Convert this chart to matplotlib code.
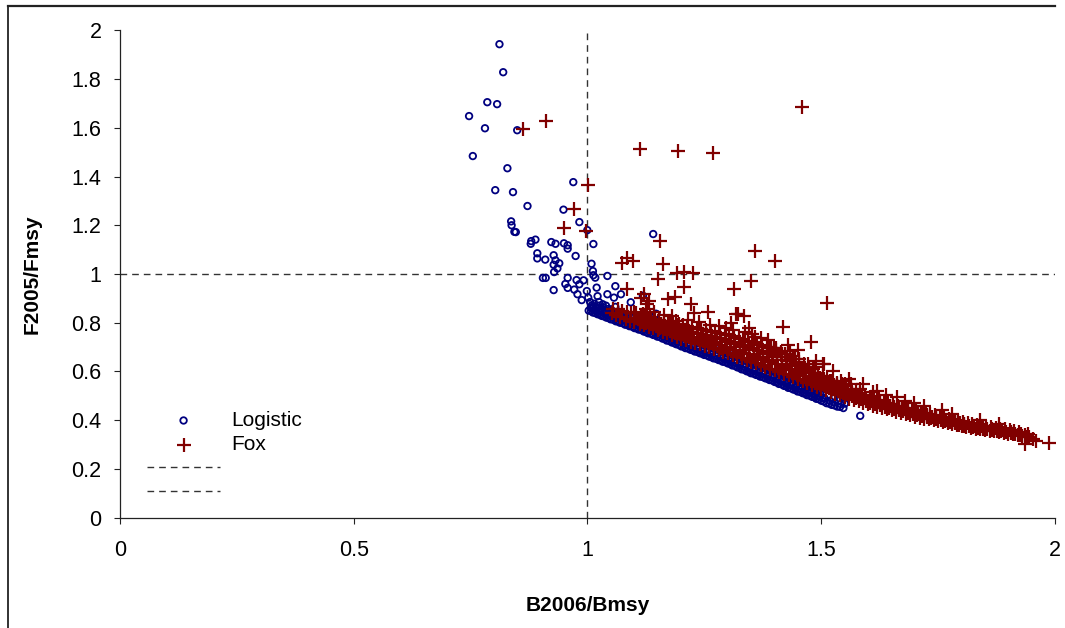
import matplotlib
matplotlib.use("Agg")
import matplotlib.pyplot as plt
from matplotlib.lines import Line2D

# ---------------- data ----------------
logistic_xy = [
    # scattered points
    (0.812, 1.943), (0.820, 1.828), (0.786, 1.705), (0.807, 1.697), (0.747, 1.648),
    (0.781, 1.598), (0.850, 1.590), (0.755, 1.484), (0.829, 1.434), (0.970, 1.377),
    (0.803, 1.344), (0.841, 1.336), (0.872, 1.279), (0.949, 1.264), (0.983, 1.213),
    (0.837, 1.216), (0.838, 1.200), (0.844, 1.173), (0.847, 1.172), (1.013, 1.123),
    (0.880, 1.135), (0.879, 1.124), (0.889, 1.141), (0.923, 1.131), (0.932, 1.124),
    (0.950, 1.126), (0.958, 1.118), (0.958, 1.104), (0.893, 1.085), (0.893, 1.064),
    (0.910, 1.059), (0.928, 1.077), (0.932, 1.056), (0.940, 1.044), (0.928, 1.038),
    (0.936, 1.023), (0.975, 1.074), (0.929, 1.008), (1.009, 1.042), (0.905, 0.984),
    (0.911, 0.984), (0.928, 0.934), (0.958, 0.984), (0.953, 0.959), (0.958, 0.943),
    (0.972, 0.936), (0.977, 0.975), (0.983, 0.958), (0.992, 0.974), (0.979, 0.917),
    (0.988, 0.893), (1.012, 1.012), (1.013, 0.995), (1.017, 0.985), (1.043, 0.992),
    (1.060, 0.950), (1.020, 0.944), (0.999, 0.930), (1.002, 0.903), (1.012, 0.862),
    (1.022, 0.909), (1.043, 0.917), (1.033, 0.876), (1.042, 0.846), (1.057, 0.903),
    (1.141, 1.164), (1.000, 1.180), (1.119, 0.911), (1.093, 0.884), (1.072, 0.917),
    (1.148, 0.835), (1.013, 0.861), (1.193, 0.745), (1.147, 0.837),
    (1.030, 0.860), (1.040, 0.870), (1.050, 0.855), (1.060, 0.865), (1.025, 0.885),
    (1.065, 0.845),
    # dense band
    (1.003, .850), (1.006, .885), (1.012, .842), (1.015, .878), (1.022, .835), (1.025, .870),
    (1.031, .828), (1.034, .862), (1.041, .821), (1.044, .856), (1.050, .814), (1.053, .849),
    (1.061, .806), (1.064, .842), (1.070, .800), (1.073, .835), (1.081, .792), (1.084, .828),
    (1.090, .786), (1.093, .821), (1.101, .778), (1.104, .814), (1.110, .772), (1.113, .806),
    (1.121, .764), (1.124, .800), (1.130, .757), (1.133, .793), (1.141, .750), (1.144, .786),
    (1.150, .743), (1.153, .779), (1.161, .735), (1.164, .771), (1.170, .727), (1.173, .763),
    (1.181, .719), (1.184, .755), (1.190, .712), (1.193, .747), (1.201, .703), (1.204, .739),
    (1.210, .696), (1.213, .732), (1.221, .689), (1.224, .725), (1.230, .682), (1.233, .718),
    (1.241, .675), (1.244, .711), (1.250, .668), (1.253, .704), (1.261, .661), (1.264, .697),
    (1.270, .654), (1.273, .690), (1.281, .647), (1.284, .683), (1.290, .640), (1.293, .676),
    (1.301, .633), (1.304, .668), (1.310, .625), (1.313, .661), (1.321, .617), (1.324, .653),
    (1.330, .609), (1.333, .645), (1.341, .601), (1.344, .637), (1.350, .593), (1.353, .629),
    (1.361, .586), (1.364, .621), (1.370, .579), (1.373, .614), (1.381, .572), (1.384, .607),
    (1.390, .565), (1.393, .600), (1.401, .557), (1.404, .592), (1.410, .549), (1.413, .584),
    (1.421, .541), (1.424, .576), (1.430, .533), (1.433, .568), (1.441, .526), (1.444, .560),
    (1.450, .518), (1.453, .552), (1.461, .511), (1.464, .543), (1.470, .503), (1.473, .535),
    (1.481, .496), (1.484, .527), (1.490, .488), (1.493, .518), (1.501, .480), (1.504, .510),
    (1.512, .470), (1.516, .500), (1.523, .463), (1.527, .490), (1.535, .456), (1.538, .480),
    (1.548, .450), (1.551, .468), (1.584, .418),
    (1.008, .862), (1.027, .850), (1.047, .834), (1.067, .820), (1.087, .806), (1.107, .792),
    (1.127, .778), (1.147, .764), (1.167, .749), (1.187, .733), (1.207, .718), (1.227, .704),
    (1.247, .690), (1.267, .676), (1.287, .662), (1.307, .648), (1.327, .632), (1.347, .616),
    (1.367, .601), (1.387, .587), (1.407, .572), (1.427, .556), (1.447, .541), (1.467, .525),
    (1.487, .508), (1.507, .492),
    # more of the dense band (half steps)
    (1.008, .848), (1.009, .860), (1.010, .872), (1.017, .840), (1.018, .852), (1.019, .864),
    (1.027, .833), (1.028, .845), (1.029, .857), (1.036, .826), (1.037, .838), (1.038, .850),
    (1.046, .819), (1.047, .831), (1.048, .843), (1.056, .812), (1.057, .824), (1.058, .836),
    (1.066, .805), (1.067, .817), (1.068, .829), (1.076, .798), (1.077, .810), (1.078, .822),
    (1.086, .791), (1.087, .803), (1.088, .815), (1.096, .784), (1.097, .796), (1.098, .808),
    (1.106, .777), (1.107, .789), (1.108, .801), (1.116, .770), (1.117, .782), (1.118, .794),
    (1.126, .762), (1.127, .774), (1.128, .786), (1.136, .755), (1.137, .767), (1.138, .779),
    (1.146, .748), (1.147, .760), (1.148, .772), (1.156, .741), (1.157, .753), (1.158, .765),
    (1.166, .733), (1.167, .745), (1.168, .757), (1.176, .725), (1.177, .737), (1.178, .749),
    (1.186, .717), (1.187, .729), (1.188, .741), (1.196, .709), (1.197, .721), (1.198, .733),
    (1.206, .702), (1.207, .714), (1.208, .726), (1.216, .694), (1.217, .706), (1.218, .718),
    (1.226, .687), (1.227, .699), (1.228, .711), (1.236, .680), (1.237, .692), (1.238, .704),
    (1.246, .673), (1.247, .685), (1.248, .697), (1.256, .666), (1.257, .678), (1.258, .690),
    (1.266, .659), (1.267, .671), (1.268, .683), (1.276, .652), (1.277, .664), (1.278, .676),
    (1.286, .645), (1.287, .657), (1.288, .669), (1.296, .638), (1.297, .650), (1.298, .662),
    (1.306, .631), (1.307, .643), (1.308, .655), (1.316, .623), (1.317, .635), (1.318, .647),
    (1.326, .615), (1.327, .627), (1.328, .639), (1.336, .607), (1.337, .619), (1.338, .631),
    (1.346, .599), (1.347, .611), (1.348, .623), (1.356, .591), (1.357, .603), (1.358, .615),
    (1.366, .584), (1.367, .596), (1.368, .608), (1.376, .577), (1.377, .589), (1.378, .601),
    (1.386, .570), (1.387, .582), (1.388, .594), (1.396, .563), (1.397, .575), (1.398, .587),
    (1.406, .555), (1.407, .567), (1.408, .579), (1.416, .547), (1.417, .559), (1.418, .571),
    (1.426, .539), (1.427, .551), (1.428, .563), (1.436, .531), (1.437, .543), (1.438, .555),
    (1.446, .524), (1.447, .536), (1.448, .548), (1.456, .516), (1.457, .528), (1.458, .540),
    (1.466, .509), (1.467, .521), (1.468, .533), (1.476, .501), (1.477, .513), (1.478, .525),
    (1.486, .494), (1.487, .506), (1.488, .518), (1.496, .486), (1.497, .498), (1.498, .510),
    (1.506, .477), (1.507, .489), (1.518, .468), (1.519, .480), (1.529, .461), (1.530, .473),
    (1.541, .455), (1.542, .466),
]

fox_xy = [
    # scattered points
    (0.862, 1.593), (0.912, 1.627), (1.002, 1.365), (1.113, 1.511), (1.195, 1.504),
    (1.268, 1.497), (1.460, 1.684), (0.972, 1.265), (0.950, 1.190), (0.998, 1.176),
    (1.358, 1.094), (1.401, 1.053), (1.156, 1.134), (1.086, 1.067), (1.097, 1.053),
    (1.075, 1.044), (1.161, 1.040), (1.152, 0.978), (1.193, 1.006), (1.206, 1.007),
    (1.227, 1.003), (1.208, 0.946), (1.085, 0.937), (1.350, 0.971), (1.315, 0.939),
    (1.513, 0.881), (1.122, 0.917), (1.133, 0.889), (1.115, 0.903), (1.128, 0.876),
    (1.120, 0.835), (1.173, 0.898), (1.188, 0.906), (1.222, 0.875), (1.258, 0.843),
    (1.229, 0.838), (1.318, 0.835), (1.336, 0.827), (1.308, 0.797), (1.418, 0.783),
    (1.347, 0.780), (1.358, 0.741), (1.478, 0.719), (1.100, 0.845), (1.111, 0.821),
    (1.136, 0.810), (1.197, 0.796), (1.173, 0.794), (1.211, 0.753), (1.243, 0.776),
    (1.400, 0.698), (1.433, 0.684), (1.454, 0.652), (1.504, 0.630), (1.286, 0.698),
    (1.272, 0.712), (1.158, 0.794), (1.179, 0.800), (1.190, 0.807), (1.208, 0.766),
    (1.322, 0.835), (1.404, 0.698), (1.393, 0.684), (1.543, 0.561), (1.565, 0.548),
    (1.590, 0.548), (1.663, 0.497), (1.506, 0.630),
    (1.125, 0.855), (1.142, 0.845), (1.165, 0.832), (1.182, 0.826), (1.215, 0.812),
    (1.238, 0.805), (1.262, 0.792), (1.282, 0.788), (1.296, 0.777), (1.312, 0.770),
    (1.338, 0.762), (1.352, 0.752), (1.372, 0.738), (1.386, 0.730), (1.384, 0.672),
    (1.391, 0.699), (1.402, 0.692), (1.423, 0.672), (1.441, 0.665), (1.462, 0.603),
    (1.473, 0.630), (1.487, 0.617), (1.519, 0.562), (1.534, 0.548), (1.552, 0.548),
    (1.584, 0.528), (1.612, 0.514), (1.430, 0.710), (1.450, 0.690), (1.490, 0.645),
    (1.525, 0.600), (1.560, 0.570), (1.620, 0.520), (1.640, 0.505), (1.680, 0.480),
    (1.720, 0.460), (1.760, 0.440), (1.700, 0.470), (1.780, 0.425), (1.840, 0.400),
    (1.880, 0.385),
    # dense band
    (1.052, .842), (1.055, .858), (1.062, .833), (1.065, .855), (1.071, .825), (1.074, .850),
    (1.082, .817), (1.085, .846), (1.091, .809), (1.094, .842), (1.101, .801), (1.104, .838),
    (1.107, .820), (1.112, .795), (1.115, .832), (1.121, .789), (1.124, .826), (1.127, .808),
    (1.132, .783), (1.135, .822), (1.141, .777), (1.144, .816), (1.147, .797), (1.151, .770),
    (1.154, .810), (1.161, .763), (1.164, .806), (1.167, .785), (1.171, .756), (1.174, .800),
    (1.181, .749), (1.184, .797), (1.187, .772), (1.191, .742), (1.194, .792), (1.201, .735),
    (1.204, .790), (1.207, .762), (1.211, .729), (1.214, .785), (1.221, .723), (1.224, .781),
    (1.227, .752), (1.231, .717), (1.234, .778), (1.241, .711), (1.244, .774), (1.247, .742),
    (1.251, .705), (1.254, .770), (1.261, .699), (1.264, .766), (1.267, .732), (1.271, .693),
    (1.274, .762), (1.281, .687), (1.284, .758), (1.287, .722), (1.291, .681), (1.294, .754),
    (1.301, .675), (1.304, .750), (1.307, .712), (1.311, .668), (1.314, .744), (1.321, .661),
    (1.324, .738), (1.327, .700), (1.331, .654), (1.334, .732), (1.341, .647), (1.344, .726),
    (1.347, .687), (1.351, .640), (1.354, .720), (1.361, .633), (1.364, .714), (1.367, .673),
    (1.371, .626), (1.374, .708), (1.381, .619), (1.384, .702), (1.387, .660), (1.391, .612),
    (1.394, .696), (1.401, .605), (1.404, .690), (1.407, .647), (1.411, .598), (1.414, .680),
    (1.421, .591), (1.424, .670), (1.427, .630), (1.431, .584), (1.434, .660), (1.441, .577),
    (1.444, .650), (1.447, .612), (1.451, .570), (1.454, .640), (1.461, .562), (1.464, .630),
    (1.467, .595), (1.471, .554), (1.474, .620), (1.481, .546), (1.484, .610), (1.487, .578),
    (1.491, .538), (1.494, .595), (1.501, .530), (1.504, .580), (1.507, .555), (1.511, .523),
    (1.514, .571), (1.521, .516), (1.524, .562), (1.527, .540), (1.531, .509), (1.534, .554),
    (1.541, .502), (1.544, .547), (1.547, .524), (1.551, .495), (1.554, .540), (1.561, .489),
    (1.564, .530), (1.567, .510), (1.571, .483), (1.574, .520), (1.581, .477), (1.584, .512),
    (1.587, .495), (1.591, .471), (1.594, .503), (1.601, .465), (1.604, .495), (1.607, .480),
    (1.611, .460), (1.614, .489), (1.621, .455), (1.624, .483), (1.627, .469), (1.631, .450),
    (1.634, .477), (1.641, .445), (1.644, .471), (1.647, .458), (1.651, .440), (1.654, .465),
    (1.661, .435), (1.664, .460), (1.667, .447), (1.671, .430), (1.674, .455), (1.681, .425),
    (1.684, .450), (1.687, .437), (1.691, .420), (1.694, .445), (1.701, .415), (1.704, .440),
    (1.707, .427), (1.711, .411), (1.714, .435), (1.721, .407), (1.724, .430), (1.727, .418),
    (1.731, .403), (1.734, .425), (1.741, .399), (1.744, .420), (1.747, .409), (1.751, .395),
    (1.754, .415), (1.761, .391), (1.764, .411), (1.767, .400), (1.771, .387), (1.774, .406),
    (1.781, .383), (1.784, .402), (1.787, .392), (1.791, .379), (1.794, .397), (1.801, .375),
    (1.804, .393), (1.807, .384), (1.811, .372), (1.814, .389), (1.821, .369), (1.824, .385),
    (1.827, .377), (1.831, .366), (1.834, .381), (1.841, .363), (1.844, .378), (1.847, .370),
    (1.851, .360), (1.854, .374), (1.861, .357), (1.864, .371), (1.867, .364), (1.871, .354),
    (1.874, .368), (1.881, .351), (1.884, .365), (1.887, .358), (1.891, .348), (1.894, .362),
    (1.901, .345), (1.904, .359), (1.907, .352), (1.911, .342), (1.914, .355), (1.921, .339),
    (1.924, .351), (1.927, .345), (1.931, .336), (1.936, .303), (1.941, .333), (1.944, .344),
    (1.954, .322), (1.961, .316), (1.989, .305), (1.929, .343),
    # more of the dense band (half steps)
    (1.116, .804), (1.117, .817), (1.126, .798), (1.127, .811), (1.136, .793), (1.137, .806),
    (1.146, .787), (1.147, .800), (1.156, .780), (1.157, .794), (1.166, .774), (1.167, .788),
    (1.176, .768), (1.177, .782), (1.186, .762), (1.187, .778), (1.196, .756), (1.197, .772),
    (1.206, .750), (1.207, .769), (1.216, .745), (1.217, .763), (1.226, .739), (1.227, .759),
    (1.236, .734), (1.237, .754), (1.246, .729), (1.247, .750), (1.256, .724), (1.257, .745),
    (1.266, .718), (1.267, .741), (1.276, .713), (1.277, .736), (1.286, .708), (1.287, .732),
    (1.296, .702), (1.297, .727), (1.306, .697), (1.307, .722), (1.316, .690), (1.317, .715),
    (1.326, .684), (1.327, .709), (1.336, .677), (1.337, .703), (1.346, .670), (1.347, .697),
    (1.356, .664), (1.357, .690), (1.366, .657), (1.367, .684), (1.376, .650), (1.377, .678),
    (1.386, .644), (1.387, .671), (1.396, .637), (1.397, .665), (1.406, .630), (1.407, .659),
    (1.416, .622), (1.417, .649), (1.426, .614), (1.427, .641), (1.436, .606), (1.437, .632),
    (1.446, .598), (1.447, .623), (1.456, .590), (1.457, .614), (1.466, .582), (1.467, .604),
    (1.476, .573), (1.477, .595), (1.486, .564), (1.487, .586), (1.496, .554), (1.497, .573),
    (1.506, .544), (1.507, .560), (1.516, .536), (1.517, .552), (1.526, .528), (1.527, .544),
    (1.536, .521), (1.537, .536), (1.546, .514), (1.547, .529), (1.556, .507), (1.557, .522),
    (1.566, .500), (1.567, .513), (1.576, .493), (1.577, .505), (1.586, .486), (1.587, .498),
    (1.596, .479), (1.597, .490), (1.606, .472), (1.607, .482), (1.616, .467), (1.617, .476),
    (1.626, .462), (1.627, .471), (1.636, .456), (1.637, .465), (1.646, .451), (1.647, .460),
    (1.656, .446), (1.657, .454), (1.666, .441), (1.667, .449), (1.676, .436), (1.677, .444),
    (1.686, .431), (1.687, .439), (1.696, .426), (1.697, .434), (1.706, .421), (1.707, .429),
    (1.716, .416), (1.717, .424), (1.726, .412), (1.727, .420), (1.736, .408), (1.737, .415),
    (1.746, .403), (1.747, .410), (1.756, .399), (1.757, .406), (1.766, .395), (1.767, .402),
    (1.776, .391), (1.777, .397), (1.786, .387), (1.787, .393), (1.796, .382), (1.797, .388),
    (1.806, .378), (1.807, .384), (1.816, .378), (1.826, .374), (1.836, .370), (1.846, .366),
    (1.856, .363), (1.866, .360), (1.876, .357), (1.886, .354), (1.896, .351), (1.906, .348),
    (1.916, .345), (1.926, .341), (1.936, .338), (1.946, .333),
]

logistic_x = [p[0] for p in logistic_xy]
logistic_y = [p[1] for p in logistic_xy]
fox_x = [p[0] for p in fox_xy]
fox_y = [p[1] for p in fox_xy]

# reference lines
vref_x = [1, 1]
vref_y = [0, 2]
href_x = [0, 2]
href_y = [1, 1]

x_ticks = [0, 0.5, 1, 1.5, 2]
x_ticklabels = ["0", "0.5", "1", "1.5", "2"]
y_ticks = [0, 0.2, 0.4, 0.6, 0.8, 1, 1.2, 1.4, 1.6, 1.8, 2]
y_ticklabels = ["0", "0.2", "0.4", "0.6", "0.8", "1", "1.2", "1.4", "1.6", "1.8", "2"]

series_labels = ["Logistic", "Fox", "", ""]
x_label = "B2006/Bmsy"
y_label = "F2005/Fmsy"

# ---------------- styling ----------------
plt.rcParams["font.family"] = ["Liberation Sans", "DejaVu Sans"]

W, H = 1065, 628
fig = plt.figure(figsize=(W / 100, H / 100), dpi=100)
ax = fig.add_axes([120 / W, (H - 517.7) / H, 934.6 / W, 487.4 / H])

navy = "#000080"
maroon = "#800000"
dash_col = "#333333"

l1, = ax.plot(vref_x, vref_y, color=dash_col, lw=1.0, dashes=(4.8, 3.6), zorder=1)
l2, = ax.plot(href_x, href_y, color=dash_col, lw=1.0, dashes=(4.8, 3.6), zorder=1)

s1 = ax.scatter(logistic_x, logistic_y, s=22, facecolors="none", edgecolors=navy,
                linewidths=1.3, zorder=3)
s2 = ax.scatter(fox_x, fox_y, s=95, marker="+", color=maroon, linewidths=1.6, zorder=4)

ax.set_xlim(0, 2)
ax.set_ylim(0, 2)
ax.set_xticks(x_ticks)
ax.set_xticklabels(x_ticklabels)
ax.set_yticks(y_ticks)
ax.set_yticklabels(y_ticklabels)

for sp in ["top", "right"]:
    ax.spines[sp].set_visible(False)
for sp in ["left", "bottom"]:
    ax.spines[sp].set_linewidth(0.9)
    ax.spines[sp].set_color("#222222")

ax.tick_params(axis="both", direction="out", length=4.3, width=0.8, color="#222222",
               labelsize=15.5)
ax.tick_params(axis="y", pad=9.0)
ax.tick_params(axis="x", pad=11.5)

ax.set_xlabel(x_label, fontsize=15, fontweight="bold")
ax.set_ylabel(y_label, fontsize=15, fontweight="bold")
ax.xaxis.set_label_coords(0.5, -0.160)
ax.yaxis.set_label_coords(-0.084, 0.5)

leg = ax.legend([s1, s2, l1, l2], series_labels, loc="upper left",
                bbox_to_anchor=(0.029, 0.219), frameon=False, fontsize=15,
                handlelength=3.5, handletextpad=0.55, labelspacing=0.25,
                borderpad=0, borderaxespad=0)

# outer frame (left and top edges)
fx = 7.5 / W
fy = 1 - 5.5 / H
fig.add_artist(Line2D([fx, fx], [0, fy], transform=fig.transFigure, color="#222222", lw=1.3))
fig.add_artist(Line2D([fx, 1055 / W], [fy, fy], transform=fig.transFigure, color="#222222", lw=1.6))

fig.savefig("out.png", dpi=100)
